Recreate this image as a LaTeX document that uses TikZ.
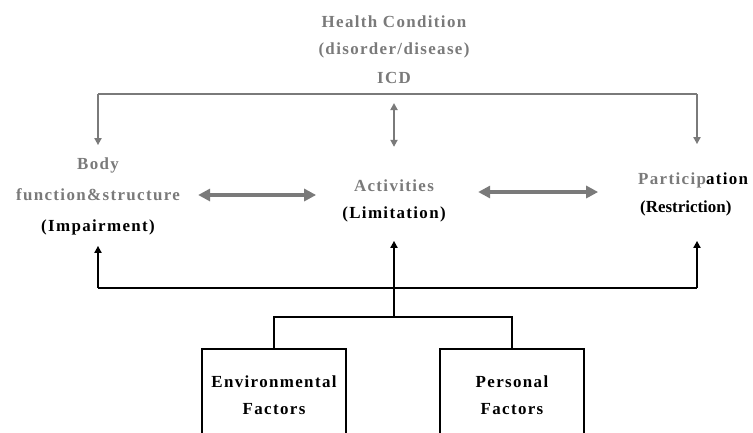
\documentclass[tikz,border=0pt]{standalone}
\usepackage{fontspec}
\newfontfamily\scanfont{Liberation Serif}[LetterSpace=8]
\usetikzlibrary{arrows.meta,positioning}
\definecolor{icfgray}{RGB}{122,122,122}

\begin{document}
\begin{tikzpicture}[
  x=1bp, y=-1bp,
  font=\scanfont\bfseries\fontsize{17}{19}\selectfont,
  lbl/.style={inner sep=0pt, anchor=center},
  glbl/.style={lbl, text=icfgray},
  box/.style={draw, line width=2.4pt, align=center, anchor=north,
              minimum width=144bp, minimum height=92bp},
  gline/.style={draw=icfgray, line width=1.8pt},
  garr/.style={gline, -{Triangle[length=7bp,width=7bp]}},
  dblarr/.style={draw=icfgray, line width=3.5pt,
                 {Triangle[length=12bp,width=12bp]}-{Triangle[length=12bp,width=12bp]}},
  bline/.style={line width=2.4pt},
  barr/.style={bline, -{Triangle[length=7bp,width=7bp]}}
]
\useasboundingbox (0,0) rectangle (753,432);
\clip (0,0) rectangle (753,432);
% health condition
\node[glbl] (health) at (394,22) {Health Condition};
\node[glbl] (disorder) at (394,50) {(disorder/disease)};
\node[glbl] (icd) at (394,78) {ICD};
% components
\node[glbl] (body) at (98,165) {Body};
\node[glbl] (bodyfn) at (98,195) {function\&structure};
\node[lbl] (impair) at (98,227) {(Impairment)};
\node[glbl] (activ) at (394,186) {Activities};
\node[lbl] (limit) at (394,214) {(Limitation)};
\node[lbl, anchor=west] (partic) at (638,180) {\textcolor{icfgray}{Particip}ation};
\node[lbl, anchor=west] (restrict) at (640,208) {\addfontfeature{LetterSpace=0}(Restriction)};
% contextual factors
\node[box] (env) at (274,348) {Environmental\\[9bp]Factors};
\node[box] (pers) at (512,348) {Personal\\[9bp]Factors};
% top bar
\coordinate (tl) at (98,94);
\coordinate (tr) at (697,94);
\coordinate (tc) at (394,94);
\draw[gline] (tl) -- (tr);
\draw[garr, shorten >=12bp] (tl) -- (body);
\draw[garr, shorten >=28bp] (tr) -- (tr |- partic.north);
\draw[garr, {Triangle[length=7bp,width=7bp]}-{Triangle[length=7bp,width=7bp]},
      shorten <=9bp, shorten >=33bp] (tc) -- (activ);
% interactions
\draw[dblarr] (bodyfn.east) ++(18,0) coordinate (da) -- ++(118,0);
\draw[dblarr] (activ.east) ++(44,6) coordinate (db) -- ++(120,0);
% bottom bar
\coordinate (bl) at (98,288);
\coordinate (br) at (697,288);
\coordinate (jn) at (394,317);
\draw[bline] (bl) -- (br);
\draw[barr, shorten >=11bp] (bl) -- (impair);
\draw[barr, shorten >=19bp] (jn) -- (limit);
\draw[barr, shorten >=25bp] (br) -- (br |- restrict.south);
\draw[bline] (env.north) |- (jn) -| (pers.north);
\end{tikzpicture}
\end{document}
